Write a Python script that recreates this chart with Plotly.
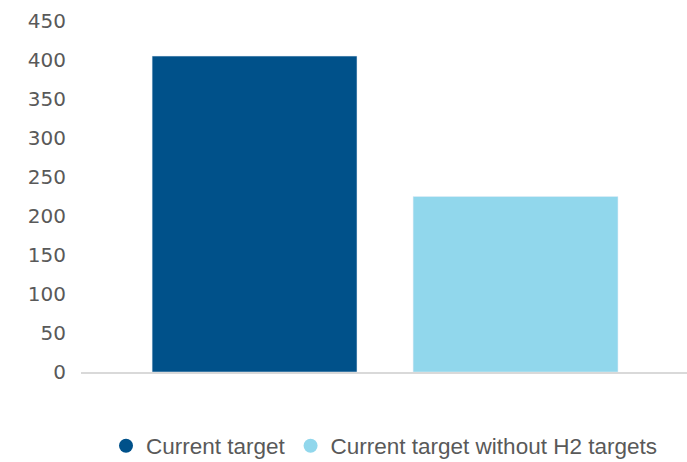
import plotly.graph_objects as go

categories = ["Current target", "Current target without H2 targets"]
values = [405, 225]
colors = ["#00518A", "#91D7EC"]
y_ticks = [0, 50, 100, 150, 200, 250, 300, 350, 400, 450]

fig = go.Figure()
for cat, val, col in zip(categories, values, colors):
    fig.add_trace(go.Bar(x=[cat], y=[val], marker_color=col, width=0.785,
                         showlegend=False, name=cat))
for cat, col in zip(categories, colors):
    fig.add_trace(go.Scatter(x=[None], y=[None], mode="markers", name=cat,
                             marker=dict(symbol="circle", size=14, color=col)))

fig.update_layout(
    width=687, height=462,
    margin=dict(l=81, r=0, t=21, b=90, autoexpand=False),
    paper_bgcolor="white", plot_bgcolor="white",
    barmode="overlay",
    font=dict(family="Liberation Sans, Arial, sans-serif", color="#595959"),
    legend=dict(orientation="h", x=0.5, xanchor="center", y=-0.211, yanchor="middle",
                font=dict(size=22.5, color="#595959"), itemwidth=30),
    xaxis=dict(type="category", categoryorder="array", categoryarray=categories,
               range=[-0.665, 1.657], showticklabels=False, showgrid=False,
               showline=True, linecolor="#D9D9D9", linewidth=1.5, ticks=""),
    yaxis=dict(range=[0, 450], tickvals=y_ticks, showgrid=False, zeroline=False,
               showline=False, ticklabelstandoff=14,
               tickfont=dict(family="DejaVu Sans, sans-serif", size=20, color="#595959")),
)

fig.write_html("out.html", config={"displayModeBar": False},
               post_script="document.body.style.margin='0';document.body.style.padding='0';")
